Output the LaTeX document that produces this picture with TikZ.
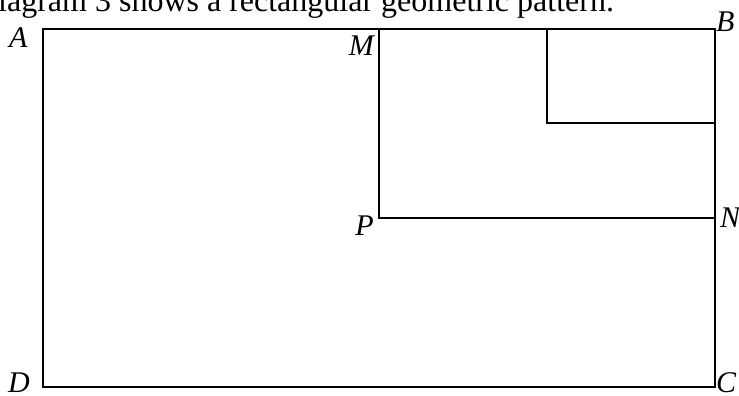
\documentclass[tikz,border=0pt]{standalone}
\usepackage{fontspec}
\setmainfont{Liberation Serif}
\begin{document}
\begin{tikzpicture}[x=1pt,y=-1pt,
  edge/.style={line width=2pt},
  lbl/.style={inner sep=0pt,font=\fontsize{30}{34}\selectfont\itshape},
  titletext/.style={inner sep=0pt,font=\fontsize{32}{36}\selectfont}]
\useasboundingbox (0,0) rectangle (739,396);
% corners
\coordinate (A) at (43,29);
\coordinate (B) at (715,29);
\coordinate (C) at (715,387);
\coordinate (D) at (43,387);
\coordinate (M) at (379,29);
\coordinate (P) at (379,218);
\coordinate (N) at (715,218);
\coordinate (Q) at (547,29);
\coordinate (R) at (547,123);
\coordinate (S) at (715,123);
% shapes
\draw[edge] (A) -- (B) -- (C) -- (D) -- cycle;
\draw[edge] (M) -- (P) -- (N);
\draw[edge] (Q) -- (R) -- (S);
% text
\node[titletext,anchor=base west] (title) at (-2,12) {iagram 3 shows a rectangular geometric pattern.};
\node[lbl,anchor=base west] (lA) at (9,48) {A};
\node[lbl,anchor=base east] (lM) at (374,56) {M};
\node[lbl,anchor=base west] (lB) at (716,32) {B};
\node[lbl,anchor=base east] (lP) at (374,235) {P};
\node[lbl,anchor=base west] (lN) at (720,227) {N};
\node[lbl,anchor=base west] (lD) at (8,392) {D};
\node[lbl,anchor=base west] (lC) at (716,392) {C};
\end{tikzpicture}
\end{document}
